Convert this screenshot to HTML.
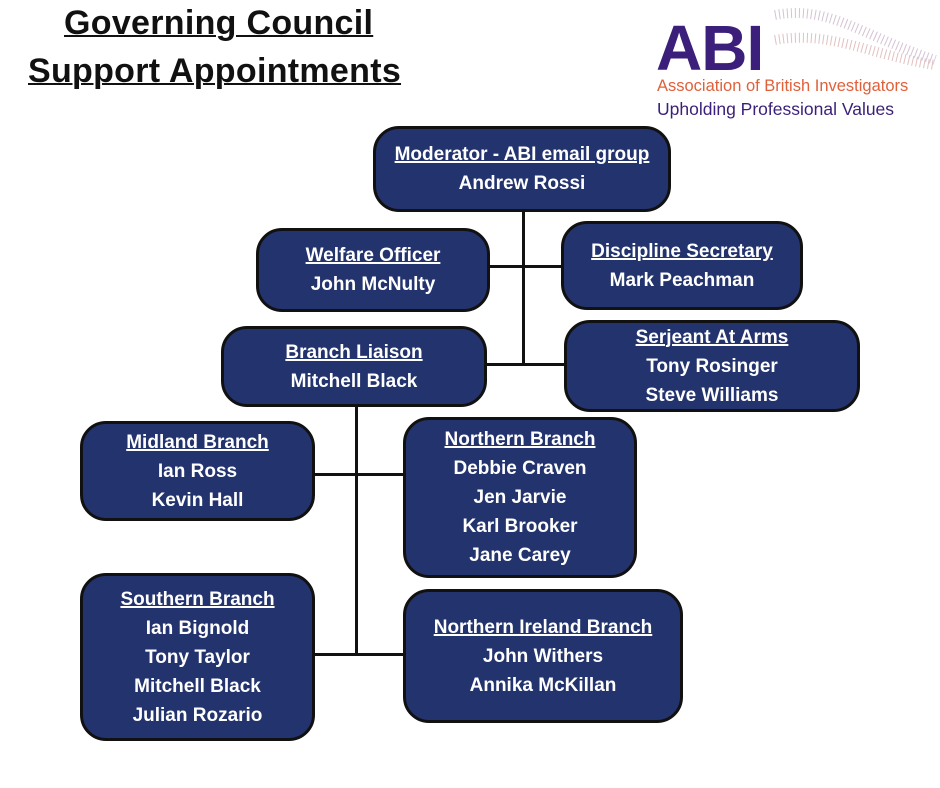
<!DOCTYPE html>
<html><head><meta charset="utf-8"><style>
body{margin:0;width:940px;height:788px;background:#fff;position:relative;overflow:hidden;font-family:"Liberation Sans",sans-serif}
.t{position:absolute;font-weight:bold;font-size:34px;text-decoration:underline;text-decoration-thickness:2px;color:#111;white-space:nowrap}
.b{position:absolute;box-sizing:border-box;background:#23336e;border:3px solid #111;border-radius:26px;color:#fff;font-weight:bold;font-size:19px;line-height:29px;display:flex;flex-direction:column;justify-content:center;align-items:center;text-align:center;white-space:nowrap}
.b u{text-decoration-thickness:1.5px}
.l{position:absolute;background:#111}
</style></head><body>
<div class="t" style="left:64px;top:4px;letter-spacing:0.3px">Governing Council</div>
<div class="t" style="left:28px;top:52px;letter-spacing:0.3px">Support Appointments</div>

<div style="position:absolute;left:656px;top:16px;font-size:64px;font-weight:bold;color:#3b1f7a;letter-spacing:-1px;line-height:64px">ABI</div>
<svg style="position:absolute;left:770px;top:5px" width="170" height="70">
<path d="M5 10 C60 0 90 30 165 55" stroke="#c9b3c9" stroke-width="10" fill="none" stroke-dasharray="1 3" opacity="0.8"/>
<path d="M5 35 C60 25 100 50 165 60" stroke="#d9b0b0" stroke-width="10" fill="none" stroke-dasharray="1 3" opacity="0.8"/>
</svg>
<div style="position:absolute;left:657px;top:77px;font-size:16.5px;color:#e0603a">Association of British Investigators</div>
<div style="position:absolute;left:657px;top:99px;font-size:17.5px;color:#3b1f7a">Upholding Professional Values</div>

<div class="l" style="left:522px;top:210px;width:3px;height:156px"></div>
<div class="l" style="left:488px;top:265px;width:74px;height:3px"></div>
<div class="l" style="left:485px;top:363px;width:80px;height:3px"></div>
<div class="l" style="left:355px;top:405px;width:3px;height:251px"></div>
<div class="l" style="left:313px;top:473px;width:91px;height:3px"></div>
<div class="l" style="left:313px;top:653px;width:91px;height:3px"></div>

<div class="b" style="left:373px;top:126px;width:298px;height:86px"><u>Moderator - ABI email group</u><span>Andrew Rossi</span></div>
<div class="b" style="left:256px;top:228px;width:234px;height:84px"><u>Welfare Officer</u><span>John McNulty</span></div>
<div class="b" style="left:561px;top:221px;width:242px;height:89px"><u>Discipline Secretary</u><span>Mark Peachman</span></div>
<div class="b" style="left:221px;top:326px;width:266px;height:81px"><u>Branch Liaison</u><span>Mitchell Black</span></div>
<div class="b" style="left:564px;top:320px;width:296px;height:92px"><u>Serjeant At Arms</u><span>Tony Rosinger</span><span>Steve Williams</span></div>
<div class="b" style="left:80px;top:421px;width:235px;height:100px"><u>Midland Branch</u><span>Ian Ross</span><span>Kevin Hall</span></div>
<div class="b" style="left:403px;top:417px;width:234px;height:161px"><u>Northern Branch</u><span>Debbie Craven</span><span>Jen Jarvie</span><span>Karl Brooker</span><span>Jane Carey</span></div>
<div class="b" style="left:80px;top:573px;width:235px;height:168px"><u>Southern Branch</u><span>Ian Bignold</span><span>Tony Taylor</span><span>Mitchell Black</span><span>Julian Rozario</span></div>
<div class="b" style="left:403px;top:589px;width:280px;height:134px"><u>Northern Ireland Branch</u><span>John Withers</span><span>Annika McKillan</span></div>
</body></html>
